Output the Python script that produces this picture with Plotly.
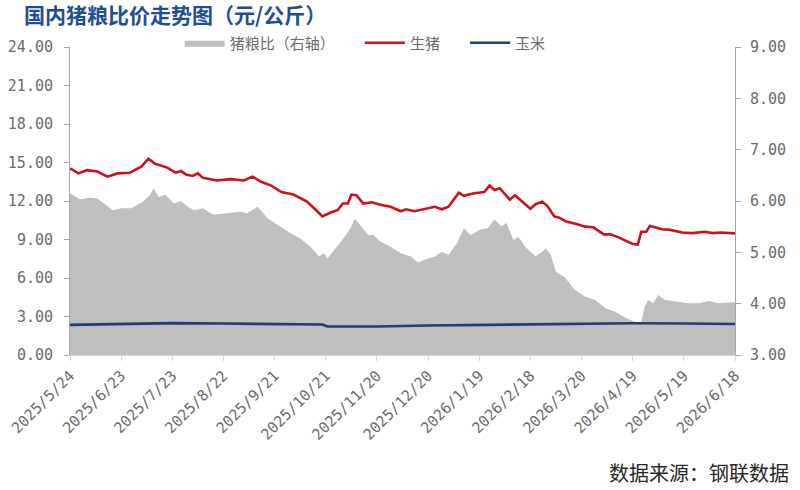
import plotly.graph_objects as go

# ---------------- data ----------------
tick_dates = ["2025-05-24", "2025-06-23", "2025-07-23", "2025-08-22", "2025-09-21",
              "2025-10-21", "2025-11-20", "2025-12-20", "2026-01-19", "2026-02-18",
              "2026-03-20", "2026-04-19", "2026-05-19", "2026-06-18"]
tick_labels = ["2025/5/24", "2025/6/23", "2025/7/23", "2025/8/22", "2025/9/21",
               "2025/10/21", "2025/11/20", "2025/12/20", "2026/1/19", "2026/2/18",
               "2026/3/20", "2026/4/19", "2026/5/19", "2026/6/18"]

hog_dates = ["2025-05-24", "2025-05-29", "2025-06-03", "2025-06-09", "2025-06-15", "2025-06-21",
             "2025-06-28", "2025-07-05", "2025-07-09", "2025-07-13", "2025-07-20", "2025-07-25",
             "2025-07-28", "2025-07-31", "2025-08-04", "2025-08-07", "2025-08-10", "2025-08-18",
             "2025-08-26", "2025-09-03", "2025-09-08", "2025-09-13", "2025-09-19", "2025-09-25",
             "2025-10-02", "2025-10-10", "2025-10-16", "2025-10-19", "2025-10-24", "2025-10-28",
             "2025-10-31", "2025-11-03", "2025-11-05", "2025-11-08", "2025-11-12", "2025-11-17",
             "2025-11-22", "2025-11-28", "2025-12-04", "2025-12-07", "2025-12-12", "2025-12-16",
             "2025-12-20", "2025-12-24", "2025-12-28", "2026-01-01", "2026-01-07", "2026-01-10",
             "2026-01-16", "2026-01-22", "2026-01-25", "2026-01-28", "2026-01-31", "2026-02-06",
             "2026-02-09", "2026-02-13", "2026-02-18", "2026-02-21", "2026-02-25", "2026-02-28",
             "2026-03-04", "2026-03-07", "2026-03-11", "2026-03-17", "2026-03-22", "2026-03-27",
             "2026-04-02", "2026-04-06", "2026-04-11", "2026-04-19", "2026-04-22", "2026-04-24",
             "2026-04-27", "2026-04-29", "2026-05-01", "2026-05-06", "2026-05-11", "2026-05-18",
             "2026-05-24", "2026-05-31", "2026-06-05", "2026-06-10", "2026-06-18"]
hog_price = [14.55, 14.15, 14.4, 14.3, 13.9, 14.15,
             14.2, 14.7, 15.3, 14.9, 14.6, 14.2,
             14.35, 14.07, 13.95, 14.15, 13.8, 13.6,
             13.7, 13.6, 13.9, 13.5, 13.2, 12.7,
             12.5, 11.95, 11.2, 10.8, 11.1, 11.3,
             11.8, 11.8, 12.5, 12.45, 11.8, 11.9,
             11.7, 11.55, 11.2, 11.35, 11.2, 11.3,
             11.4, 11.55, 11.35, 11.55, 12.65, 12.4,
             12.6, 12.7, 13.2, 12.85, 13.0, 12.1,
             12.45, 11.95, 11.4, 11.75, 11.95, 11.6,
             10.8, 10.7, 10.4, 10.2, 10.0, 9.95,
             9.4, 9.4, 9.15, 8.65, 8.6, 9.6,
             9.6, 10.05, 10.0, 9.8, 9.75, 9.55,
             9.5, 9.6, 9.5, 9.55, 9.48]

ratio_dates = ["2025-05-24", "2025-05-30", "2025-06-05", "2025-06-09", "2025-06-13", "2025-06-18",
               "2025-06-23", "2025-06-29", "2025-07-06", "2025-07-10", "2025-07-12", "2025-07-15",
               "2025-07-19", "2025-07-24", "2025-07-28", "2025-08-01", "2025-08-05", "2025-08-10",
               "2025-08-16", "2025-08-24", "2025-09-01", "2025-09-05", "2025-09-11", "2025-09-17",
               "2025-09-23", "2025-09-29", "2025-10-06", "2025-10-12", "2025-10-17", "2025-10-20",
               "2025-10-22", "2025-10-26", "2025-11-01", "2025-11-05", "2025-11-07", "2025-11-11",
               "2025-11-15", "2025-11-18", "2025-11-22", "2025-11-28", "2025-12-04", "2025-12-10",
               "2025-12-14", "2025-12-20", "2025-12-24", "2025-12-28", "2026-01-01", "2026-01-06",
               "2026-01-10", "2026-01-14", "2026-01-20", "2026-01-24", "2026-01-28", "2026-02-01",
               "2026-02-04", "2026-02-08", "2026-02-11", "2026-02-15", "2026-02-21", "2026-02-25",
               "2026-02-27", "2026-03-02", "2026-03-05", "2026-03-10", "2026-03-16", "2026-03-22",
               "2026-03-28", "2026-04-03", "2026-04-09", "2026-04-15", "2026-04-20", "2026-04-24",
               "2026-04-26", "2026-04-28", "2026-05-01", "2026-05-04", "2026-05-08", "2026-05-14",
               "2026-05-22", "2026-05-28", "2026-06-03", "2026-06-08", "2026-06-18"]
ratio = [6.15, 6.03, 6.07, 6.05, 5.95, 5.82,
         5.86, 5.86, 5.99, 6.12, 6.25, 6.08,
         6.12, 5.95, 6.0, 5.89, 5.82, 5.86,
         5.73, 5.76, 5.79, 5.76, 5.89, 5.66,
         5.53, 5.40, 5.27, 5.11, 4.92, 4.98,
         4.88, 5.05, 5.30, 5.50, 5.66, 5.50,
         5.34, 5.34, 5.21, 5.11, 4.98, 4.92,
         4.80, 4.88, 4.92, 5.01, 4.95, 5.18,
         5.47, 5.34, 5.45, 5.47, 5.64, 5.51,
         5.57, 5.24, 5.30, 5.11, 4.92, 5.01,
         5.08, 4.95, 4.62, 4.52, 4.27, 4.14,
         4.07, 3.91, 3.84, 3.72, 3.65, 3.64,
         3.94, 4.07, 4.01, 4.17, 4.07, 4.04,
         4.01, 4.01, 4.05, 4.01, 4.03]

corn_dates = ["2025-05-24", "2025-06-23", "2025-07-23", "2025-08-22", "2025-09-21",
              "2025-10-19", "2025-10-22", "2025-11-20", "2025-12-20", "2026-01-19",
              "2026-02-18", "2026-03-20", "2026-04-19", "2026-05-19", "2026-06-18"]
corn_price = [2.35, 2.42, 2.48, 2.45, 2.42,
              2.38, 2.22, 2.22, 2.30, 2.35,
              2.38, 2.42, 2.47, 2.45, 2.42]

# ---------------- figure ----------------
NUM_FONT = dict(family="DejaVu Sans Mono", size=15, color="#6B6B6B")
AXIS_COLOR = "#A6A6A6"
NB = "\u00a0"

fig = go.Figure()
fig.add_trace(go.Scatter(x=ratio_dates, y=ratio, name="猪粮比（右轴）" + NB * 6, yaxis="y",
                         mode="lines", line=dict(width=0, color="#BFBFBF"),
                         fill="tozeroy", fillcolor="#BFBFBF"))
fig.add_trace(go.Scatter(x=hog_dates, y=hog_price, name="生猪" + NB * 6, yaxis="y2",
                         mode="lines", line=dict(width=2.6, color="#D0101B")))
fig.add_trace(go.Scatter(x=corn_dates, y=corn_price, name="玉米", yaxis="y2",
                         mode="lines", line=dict(width=2.6, color="#1F3D7A")))

fig.update_layout(
    width=800, height=490,
    margin=dict(l=70, r=65, t=47, b=135, autoexpand=False),
    paper_bgcolor="white", plot_bgcolor="white",
    font=dict(family="Noto Sans CJK SC", color="#595959"),
    title=dict(text="<b>国内猪粮比价走势图（元/公斤）</b>", x=24/800, xanchor="left",
               y=1-16/490, yanchor="middle",
               font=dict(family="Noto Sans CJK SC", size=21, color="#1F4E96")),
    showlegend=True,
    legend=dict(orientation="h", x=0.165, xanchor="left", y=1.013, yanchor="middle",
                font=dict(family="Noto Sans CJK SC", size=15, color="#6B6B6B"),
                bgcolor="rgba(0,0,0,0)", itemwidth=40, tracegroupgap=0),
    xaxis=dict(type="date", range=["2025-05-24", "2026-06-18"], automargin=False,
               tickmode="array", tickvals=tick_dates, ticktext=tick_labels,
               tickangle=-45, tickfont=dict(family="DejaVu Sans Mono", size=15, color="#6B6B6B"),
               showline=True, linecolor="#D9D9D9", linewidth=1,
               ticks="outside", ticklen=5, tickcolor="#D9D9D9",
               showgrid=False, zeroline=False),
    yaxis=dict(side="right", range=[3, 9], tickvals=[3, 4, 5, 6, 7, 8, 9], automargin=False,
               tickformat=".2f", tickfont=NUM_FONT,
               showline=True, linecolor=AXIS_COLOR, linewidth=1,
               ticks="outside", ticklen=5, tickcolor=AXIS_COLOR, ticklabelstandoff=6,
               showgrid=False, zeroline=False),
    yaxis2=dict(side="left", overlaying="y", range=[0, 24], automargin=False,
                tickvals=[0, 3, 6, 9, 12, 15, 18, 21, 24],
                tickformat=".2f", tickfont=NUM_FONT,
                showline=True, linecolor=AXIS_COLOR, linewidth=1,
                ticks="outside", ticklen=5, tickcolor=AXIS_COLOR, ticklabelstandoff=8,
                showgrid=False, zeroline=False),
    annotations=[dict(text="数据来源：钢联数据", xref="paper", yref="paper",
                      x=(791-70)/665, y=(355-472)/308, xanchor="right", yanchor="middle",
                      showarrow=False,
                      font=dict(family="Noto Sans CJK SC", size=20, color="#262626"))],
)

fig.write_html("out.html")
